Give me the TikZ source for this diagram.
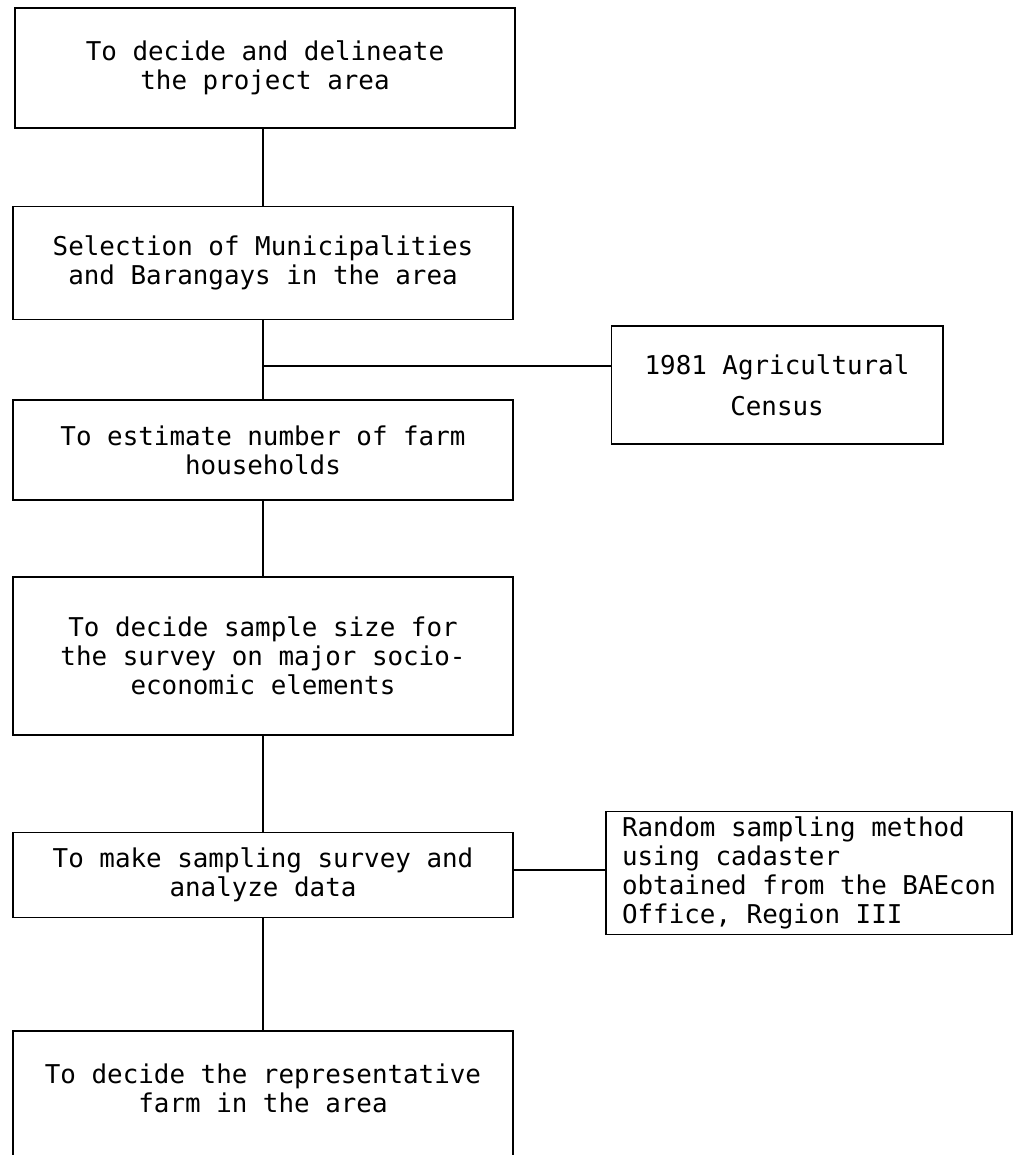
\documentclass[tikz,border=0pt]{standalone}
\usepackage{fontspec}
\setmonofont{DejaVu Sans Mono}
\usepackage{tikz}

\begin{document}
\begin{tikzpicture}[x=0.025cm, y=-0.025cm, line width=1.2pt,
  stp/.style={draw, rectangle, align=center, inner sep=0pt,
    minimum width=12.5cm, font=\ttfamily\fontsize{18.4}{20.6}\selectfont},
  src/.style={stp, minimum width=0pt, inner xsep=0.4cm}]
\useasboundingbox (0,0) rectangle (1014,1155);
\node[stp, minimum height=3cm] (P1) at (265,68) {To decide and delineate\\the project area};
\node[stp, minimum height=2.83cm] (P2) at (263,263) {Selection of Municipalities\\and Barangays in the area};
\node[stp, minimum height=2.5cm] (P3) at (263,450) {To estimate number of farm\\households};
\node[stp, minimum height=3.95cm] (P4) at (263,656) {To decide sample size for\\the survey on major socio-\\economic elements};
\node[stp, minimum height=2.13cm] (P5) at (263,875) {To make sampling survey and\\analyze data};
\node[stp, anchor=north, minimum height=3.6cm] (P6) at (263,1030) {To decide the representative\\farm in the area\\~};
\node[src, minimum width=8.28cm, minimum height=2.95cm] (C) at (777,385) {1981 Agricultural\\[0.3cm]Census};
\node[src, align=left, minimum height=3.08cm] (R) at (809,873) {Random sampling method\\using cadaster\\obtained from the BAEcon\\Office, Region III};
\draw (P1.south -| P2.north) -- (P2.north); \draw (P2) -- (P3);
\draw (P3) -- (P4); \draw (P4) -- (P5);
\draw (P5) -- (P6);
\coordinate (J1) at (263,366);
\coordinate (J2) at (0,870);
\draw (J1) -- (J1 -| C.west);
\draw (J2 -| P5.east) -- (J2 -| R.west);
\end{tikzpicture}
\end{document}
